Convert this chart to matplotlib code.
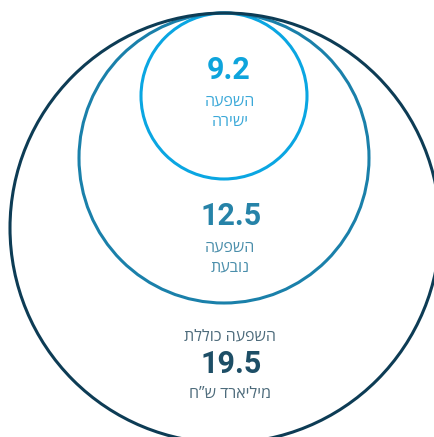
import matplotlib
matplotlib.use("Agg")
import matplotlib.pyplot as plt
from matplotlib.patches import Circle

# values (billion NIS) and labels, inner -> outer
values = [9.2, 12.5, 19.5]
labels_top = ["השפעה", "השפעה", "השפעה כוללת"]
labels_bottom = ["ישירה", "נובעת", "מיליארד ש”ח"]

# circle geometry in pixel units (all tangent at the top)
radii = [83, 145, 215]
center_x = [224, 224, 225]
top_y = 13
line_colors = ["#0aa6e2", "#1a80aa", "#0d3c55"]
num_colors = ["#0ea4dc", "#2683a8", "#1d4e66"]
lab_colors = ["#3aa8d8", "#4a8eab", "#4d6b7b"]

HEB = ["Open Sans", "DejaVu Sans"]


def rtl(s):
    # matplotlib has no bidi support; reverse to visual order
    return s[::-1]


fig = plt.figure(figsize=(4.35, 4.37), dpi=100)
ax = fig.add_axes([0, 0, 1, 1])
ax.set_xlim(0, 435)
ax.set_ylim(437, 0)
ax.set_aspect("equal")
ax.axis("off")

for r, cx, col in zip(radii, center_x, line_colors):
    ax.add_patch(Circle((cx, top_y + r), r, fill=False, edgecolor=col, linewidth=2.2))

# inner circle
ax.text(229, 70, f"{values[0]}", ha="center", va="center", fontsize=22,
        fontweight="bold", family="Roboto", color=num_colors[0])
ax.text(230, 101, rtl(labels_top[0]), ha="center", va="center", fontsize=11.5,
        family=HEB, color=lab_colors[0])
ax.text(230, 122, rtl(labels_bottom[0]), ha="center", va="center", fontsize=11.5,
        family=HEB, color=lab_colors[0])

# middle circle
ax.text(231, 216, f"{values[1]}", ha="center", va="center", fontsize=22,
        fontweight="bold", family="Roboto", color=num_colors[1])
ax.text(230, 247, rtl(labels_top[1]), ha="center", va="center", fontsize=11.5,
        family=HEB, color=lab_colors[1])
ax.text(230, 267, rtl(labels_bottom[1]), ha="center", va="center", fontsize=11.5,
        family=HEB, color=lab_colors[1])

# outer circle
ax.text(230, 336, rtl(labels_top[2]), ha="center", va="center", fontsize=11.5,
        family=HEB, color=lab_colors[2])
ax.text(231, 364, f"{values[2]}", ha="center", va="center", fontsize=22,
        fontweight="bold", family="Roboto", color=num_colors[2])
ax.text(230, 394, rtl(labels_bottom[2]), ha="center", va="center", fontsize=11.5,
        family=HEB, color=lab_colors[2])

fig.savefig("out.png", dpi=100)
